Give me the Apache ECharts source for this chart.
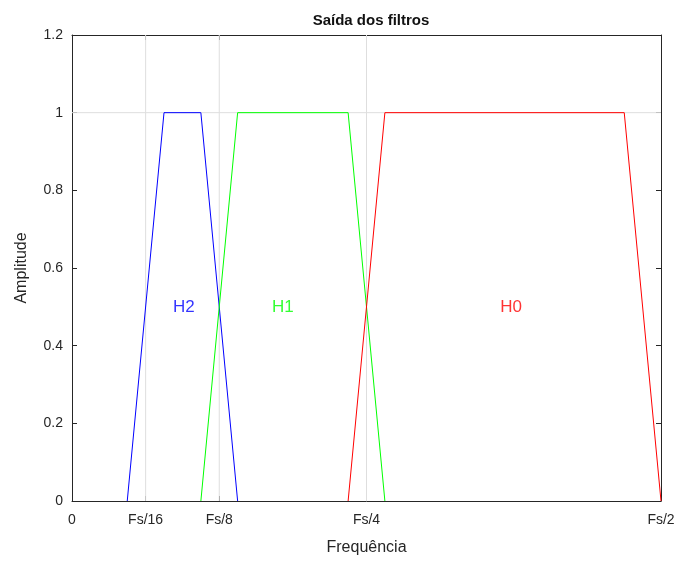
<!DOCTYPE html>
<html><head><meta charset="utf-8">
<script src="https://cdn.jsdelivr.net/npm/echarts@6/dist/echarts.min.js"></script>
<style>html,body{margin:0;padding:0;background:#fff}#c{width:680px;height:561px}</style>
</head><body><div id="c"></div>
<script>
var tickValues = [0, 0.0625, 0.125, 0.25, 0.5];
var tickLabels = ['0', 'Fs/16', 'Fs/8', 'Fs/4', 'Fs/2'];
var gridX = [0.0625, 0.125, 0.25];
var gridY = [1];
var h2Freq = [0.0469, 0.0781, 0.1094, 0.1406];
var h2Amp = [0, 1, 1, 0];
var h1Freq = [0.1094, 0.1406, 0.2344, 0.2656];
var h1Amp = [0, 1, 1, 0];
var h0Freq = [0.2344, 0.2656, 0.4688, 0.5];
var h0Amp = [0, 1, 1, 0];
var labelNames = ['H2', 'H1', 'H0'];
var labelX = [0.095, 0.179, 0.3727];
var labelY = [0.5, 0.5, 0.5];
var colors = ['#0000ff', '#00ff00', '#ff0000'];

function pairs(xs, ys){ return xs.map(function(x,i){ return [x, ys[i]]; }); }

var chart = echarts.init(document.getElementById('c'), null, {renderer:'canvas'});
var textColor = '#262626';
var axisCol = '#262626';
var font = 'Helvetica, Arial, "Liberation Sans", sans-serif';
var X_MIN = 0, X_MAX = 0.5, Y_MIN = 0, Y_MAX = 1.2;

var gridSeries = [];
gridX.forEach(function(v){
  gridSeries.push({type:'line', data:[[v, Y_MIN],[v, Y_MAX]], symbol:'none', silent:true, z:1,
    lineStyle:{color:'#dedede', width:1}, animation:false});
});
gridY.forEach(function(v){
  gridSeries.push({type:'line', data:[[X_MIN, v],[X_MAX, v]], symbol:'none', silent:true, z:1,
    lineStyle:{color:'#dedede', width:1}, animation:false});
});

var lineSeries = [[h2Freq,h2Amp],[h1Freq,h1Amp],[h0Freq,h0Amp]].map(function(d, i){
  return {type:'line', data: pairs(d[0], d[1]), showSymbol:false, symbol:'none', z:3,
    lineStyle:{color: colors[i], width:1}, itemStyle:{color: colors[i]}, animation:false};
});

var labelSeries = {
  type:'scatter', symbolSize:0, animation:false, z:4,
  data: labelNames.map(function(n,i){ return {value:[labelX[i], labelY[i]], name:n,
    label:{show:true, position:'inside', formatter:n, color: colors[i], fontSize:17, fontFamily: font}}; })
};

chart.setOption({
  backgroundColor:'#fff',
  animation:false,
  title:{text:'Saída dos filtros', left: 366, textAlign:'center', top:8,
    textStyle:{fontSize:15, fontWeight:'bold', color:'#111', fontFamily: font}},
  grid:{left:72, right:19, top:35, bottom:60},
  xAxis:[{
    type:'value', min:X_MIN, max:X_MAX, position:'bottom',
    name:'Frequência', nameLocation:'middle', nameGap:39,
    nameTextStyle:{fontSize:16, color:textColor, fontFamily: font},
    axisLine:{show:true, onZero:false, lineStyle:{color:axisCol, width:1}},
    axisTick:{show:true, inside:true, length:5, customValues: tickValues, lineStyle:{color:axisCol}},
    axisLabel:{show:true, customValues: tickValues, margin:12, fontSize:14, color:textColor, fontFamily: font,
      formatter:function(v){ var i = tickValues.indexOf(v); return i>=0 ? tickLabels[i] : ''; }},
    splitLine:{show:false}
  },{
    type:'value', min:X_MIN, max:X_MAX, position:'top',
    axisLine:{show:true, onZero:false, lineStyle:{color:axisCol, width:1}},
    axisTick:{show:true, inside:true, length:5, customValues: tickValues, lineStyle:{color:axisCol}},
    axisLabel:{show:false}, splitLine:{show:false}
  }],
  yAxis:[{
    type:'value', min:Y_MIN, max:Y_MAX, interval:0.2, position:'left',
    name:'Amplitude', nameLocation:'middle', nameGap:42,
    nameTextStyle:{fontSize:16, color:textColor, fontFamily: font},
    axisLine:{show:true, onZero:false, lineStyle:{color:axisCol, width:1}},
    axisTick:{show:true, inside:true, length:5, lineStyle:{color:axisCol}},
    axisLabel:{fontSize:14, color:textColor, margin:9, fontFamily: font,
      formatter:function(v){ return String(Math.round(v*10)/10); }},
    splitLine:{show:false}
  },{
    type:'value', min:Y_MIN, max:Y_MAX, interval:0.2, position:'right',
    axisLine:{show:true, onZero:false, lineStyle:{color:axisCol, width:1}},
    axisTick:{show:true, inside:true, length:5, lineStyle:{color:axisCol}},
    axisLabel:{show:false}, splitLine:{show:false}
  }],
  series: gridSeries.concat(lineSeries).concat([labelSeries])
});
</script>
</body></html>
